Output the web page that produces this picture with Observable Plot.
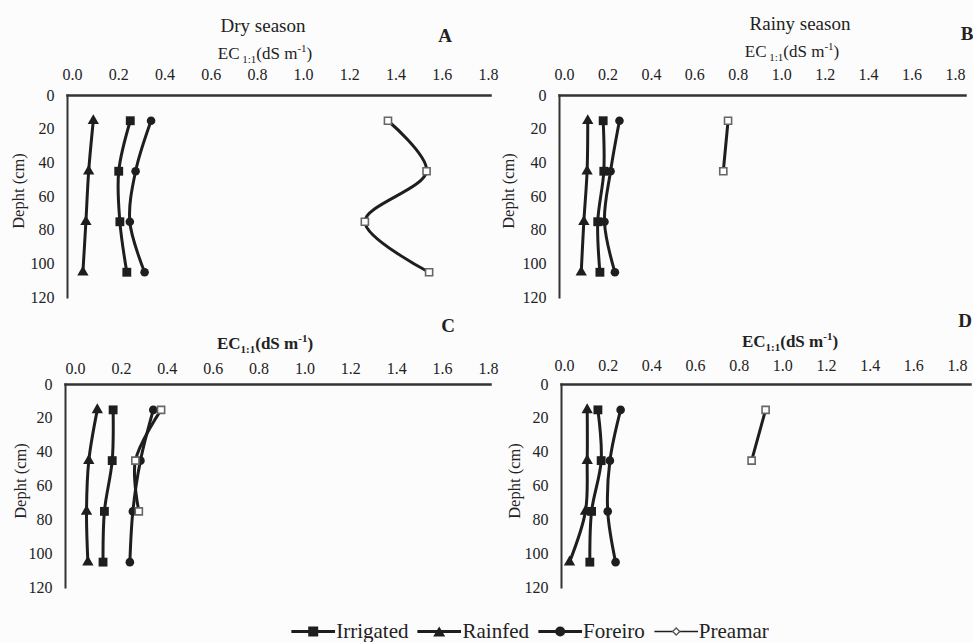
<!DOCTYPE html>
<html><head><meta charset="utf-8">
<script src="https://cdn.jsdelivr.net/npm/d3@7"></script>
<script src="https://cdn.jsdelivr.net/npm/@observablehq/plot@0.6"></script>
<style>
body{margin:0;background:#fff;}
#chart{position:relative;width:973px;height:642px;background:#fcfcfd;font-family:"Liberation Serif","Times New Roman",serif;color:#222;overflow:hidden}
#chart svg, #chart svg text{font-family:"Liberation Serif","Times New Roman",serif !important;}
#chart svg g[aria-label^="x-axis tick label"], #chart svg g[aria-label^="y-axis tick label"]{font-size:16px !important;fill:#222}
.abs{position:absolute;white-space:nowrap;line-height:1;transform:translate(-50%,-50%);font-family:"Liberation Serif","Times New Roman",serif}
.panel{position:absolute}
.title{font-size:19px}
.axt{font-size:17px}
.axt sub,.axt sup{font-size:11px}
.letter{font-size:19px;font-weight:bold}
.ylab{font-size:16.5px;transform:translate(-50%,-50%) rotate(-90deg)}
#legend{position:absolute;left:530px;top:631px;transform:translate(-50%,-50%);display:flex;align-items:center;font-size:21px;white-space:nowrap;line-height:1;font-family:"Liberation Serif","Times New Roman",serif}
#legend .item{display:flex;align-items:center;margin-right:9px}
#legend .item:last-child{margin-right:0}
#legend svg{margin-right:1px}
</style></head>
<body>
<div id="chart"></div>
<script>
// ---- data ----
const depths = [15, 45, 75, 105];
const seriesNames = ["Irrigated", "Rainfed", "Foreiro", "Preamar"];
const xTicks = [0, 0.2, 0.4, 0.6, 0.8, 1.0, 1.2, 1.4, 1.6, 1.8];
const yTicks = [0, 20, 40, 60, 80, 100, 120];

// Panel A (Dry season)
const A_Irrigated = [0.25, 0.20, 0.205, 0.235];
const A_Rainfed   = [0.09, 0.07, 0.058, 0.045];
const A_Foreiro   = [0.34, 0.273, 0.248, 0.312];
const A_Preamar   = [1.365, 1.532, 1.265, 1.543];
// Panel B (Rainy season)
const B_Irrigated = [0.178, 0.181, 0.153, 0.163];
const B_Rainfed   = [0.107, 0.104, 0.089, 0.077];
const B_Foreiro   = [0.253, 0.212, 0.184, 0.232];
const B_Preamar   = [0.753, 0.731, null, null];
// Panel C
const C_Irrigated = [0.164, 0.16, 0.126, 0.12];
const C_Rainfed   = [0.095, 0.058, 0.048, 0.054];
const C_Foreiro   = [0.339, 0.283, 0.25, 0.237];
const C_Preamar   = [0.373, 0.261, 0.276, null];
// Panel D
const D_Irrigated = [0.153, 0.168, 0.124, 0.116];
const D_Rainfed   = [0.104, 0.104, 0.096, 0.023];
const D_Foreiro   = [0.257, 0.208, 0.198, 0.234];
const D_Preamar   = [0.921, 0.857, null, null];

const panelSeries = {
  A: [A_Irrigated, A_Rainfed, A_Foreiro, A_Preamar],
  B: [B_Irrigated, B_Rainfed, B_Foreiro, B_Preamar],
  C: [C_Irrigated, C_Rainfed, C_Foreiro, C_Preamar],
  D: [D_Irrigated, D_Rainfed, D_Foreiro, D_Preamar]
};
const rows = [];
for (const p of Object.keys(panelSeries)) {
  panelSeries[p].forEach((vals, si) => {
    vals.forEach((v, i) => { if (v != null) rows.push({panel: p, series: seriesNames[si], depth: depths[i], ec: v}); });
  });
}

// ---- layout ----
const layouts = {
  A: {left: 0,   top: 0,   width: 500, height: 305, mL: 67, mR: 10, mT: 95, mB: 8, inL: 5, inR: 2, pad: 15.5},
  B: {left: 490, top: 0,   width: 483, height: 305, mL: 69, mR: 8,  mT: 95, mB: 8, inL: 5, inR: 10, pad: 15.5},
  C: {left: 0,   top: 300, width: 500, height: 300, mL: 65, mR: 10, mT: 84, mB: 13, inL: 10, inR: 2, pad: 11},
  D: {left: 490, top: 300, width: 483, height: 300, mL: 71, mR: 3,  mT: 84, mB: 13, inL: 3, inR: 13, pad: 14}
};

const chart = document.getElementById("chart");
const fmt = d3.format(".1f");
const ink = "#1e1e1e";

for (const p of Object.keys(layouts)) {
  const L = layouts[p];
  const data = rows.filter(d => d.panel === p);
  const sel = s => data.filter(d => d.series === s);
  const plot = Plot.plot({
    width: L.width, height: L.height,
    marginLeft: L.mL, marginRight: L.mR, marginTop: L.mT, marginBottom: L.mB,
    style: {background: "transparent", fontFamily: '"Liberation Serif","Times New Roman",serif', fontSize: "16px", color: "#222", overflow: "visible"},
    x: {domain: [0, 1.8], insetLeft: L.inL, insetRight: L.inR},
    y: {domain: [0, 120], reverse: true},
    marks: [
      Plot.frame({anchor: "top", stroke: "#333", strokeWidth: 2.5}),
      Plot.frame({anchor: "left", stroke: "#333", strokeWidth: 2}),
      Plot.axisX({anchor: "top", ticks: xTicks, tickFormat: fmt, tickSize: 0, tickPadding: L.pad, label: null, fontSize: 16}),
      Plot.axisY({anchor: "left", ticks: yTicks, tickSize: 0, tickPadding: 13, label: null, fontSize: 16}),
      Plot.line(data, {x: "ec", y: "depth", z: "series", curve: "catmull-rom", stroke: ink, strokeWidth: 3}),
      Plot.dot(sel("Rainfed"), {x: "ec", y: "depth", symbol: "triangle", r: 4.2, fill: ink}),
      Plot.dot(sel("Irrigated"), {x: "ec", y: "depth", symbol: "square", r: 5, fill: ink}),
      Plot.dot(sel("Foreiro"), {x: "ec", y: "depth", symbol: "circle", r: 4.3, fill: ink}),
      Plot.dot(sel("Preamar"), {x: "ec", y: "depth", symbol: "square", r: 4, fill: "#fff", stroke: "#666", strokeWidth: 1.6})
    ]
  });
  plot.classList.add("panel");
  plot.style.left = L.left + "px";
  plot.style.top = L.top + "px";
  chart.appendChild(plot);
}

// ---- texts ----
function addText(html, cls, x, y) {
  const d = document.createElement("div");
  d.className = "abs " + cls;
  d.style.left = x + "px"; d.style.top = y + "px";
  d.innerHTML = html;
  chart.appendChild(d);
}
const ecReg = 'EC<sub> 1:1</sub>(dS m<sup>-1</sup>)';
const ecBold = '<b>EC<sub>1:1</sub>(dS m<sup>-1</sup>)</b>';
addText("Dry season", "title", 263, 25);
addText("Rainy season", "title", 800, 23);
addText(ecReg, "axt", 265, 54);
addText(ecReg, "axt", 792, 52);
addText(ecBold, "axt", 265, 344);
addText(ecBold, "axt", 790, 342);
addText("A", "letter", 445, 35);
addText("B", "letter", 967, 33);
addText("C", "letter", 448, 325);
addText("D", "letter", 965, 320);
addText("Depht (cm)", "ylab", 19, 191);
addText("Depht (cm)", "ylab", 509, 191);
addText("Depht (cm)", "ylab", 21, 481);
addText("Depht (cm)", "ylab", 515, 481);

// ---- legend ----
const legend = document.createElement("div");
legend.id = "legend";
const sw = {
  Irrigated: '<rect x="17" y="2" width="10" height="10" fill="#1e1e1e"/>',
  Rainfed: '<path d="M22,2 L28,12 L16,12 Z" fill="#1e1e1e"/>',
  Foreiro: '<circle cx="22" cy="7" r="5" fill="#1e1e1e"/>',
  Preamar: '<path d="M22,3.5 L25.5,7 L22,10.5 L18.5,7 Z" fill="#fff" stroke="#555" stroke-width="1.3"/>'
};
seriesNames.forEach(s => {
  const it = document.createElement("div");
  it.className = "item";
  const lw = s === "Preamar" ? 1.5 : 3;
  it.innerHTML = `<svg width="44" height="14"><line x1="0" x2="44" y1="7" y2="7" stroke="#1e1e1e" stroke-width="${lw}"/>${sw[s]}</svg><span>${s}</span>`;
  legend.appendChild(it);
});
chart.appendChild(legend);
</script>
</body></html>
